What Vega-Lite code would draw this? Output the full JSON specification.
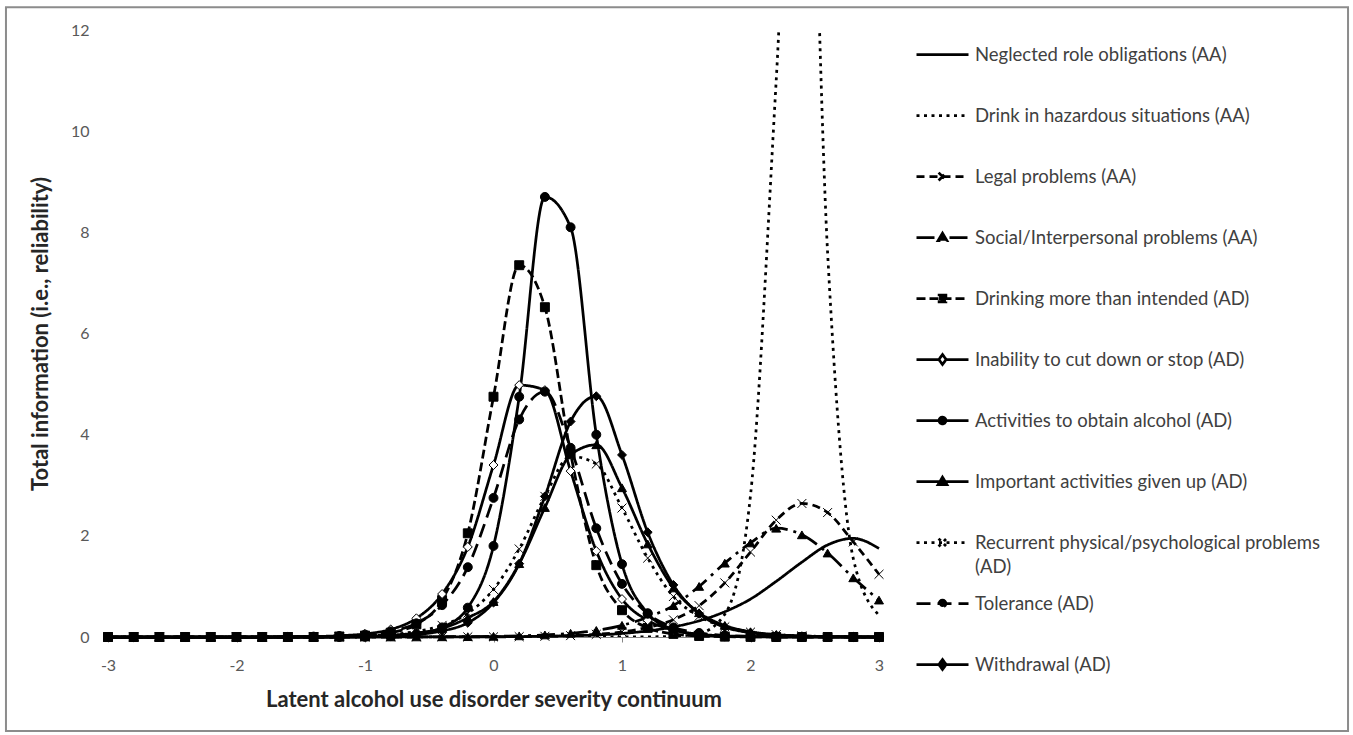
{
  "$schema": "https://vega.github.io/schema/vega-lite/v6.json",
  "width": 771,
  "height": 607,
  "autosize": {"type": "none"},
  "padding": {"left": 108, "top": 30, "right": 474, "bottom": 98},
  "background": "white",
  "config": {
    "view": {"stroke": null},
    "font": "Lato",
    "style": {"guide-label": {"lineHeight": 24}},
    "axisX": {"grid": false, "domainColor": "#868686", "domainWidth": 1, "tickColor": "#868686", "tickSize": 5, "labelPadding": 15,
      "labelFont": "Lato", "labelFontSize": 16, "labelColor": "#595959", "labelFlush": false, "labelOverlap": false,
      "titleFont": "Lato", "titleFontSize": 22, "titleFontWeight": "bold", "titleColor": "#262626", "titlePadding": 16},
    "axisY": {"grid": false, "domain": false, "ticks": false, "tickSize": 0, "labelPadding": 19,
      "labelFont": "Lato", "labelFontSize": 16, "labelColor": "#595959",
      "titleFont": "Lato", "titleFontSize": 22, "titleFontWeight": "bold", "titleColor": "#262626", "titlePadding": 18}
  },
  "data": {"values": [
    {"theta": -3, "item": "Neglected role obligations (AA)", "info": 0},
    {"theta": -2.8, "item": "Neglected role obligations (AA)", "info": 0},
    {"theta": -2.6, "item": "Neglected role obligations (AA)", "info": 0},
    {"theta": -2.4, "item": "Neglected role obligations (AA)", "info": 0},
    {"theta": -2.2, "item": "Neglected role obligations (AA)", "info": 0},
    {"theta": -2, "item": "Neglected role obligations (AA)", "info": 0},
    {"theta": -1.8, "item": "Neglected role obligations (AA)", "info": 0},
    {"theta": -1.6, "item": "Neglected role obligations (AA)", "info": 0},
    {"theta": -1.4, "item": "Neglected role obligations (AA)", "info": 0},
    {"theta": -1.2, "item": "Neglected role obligations (AA)", "info": 0},
    {"theta": -1, "item": "Neglected role obligations (AA)", "info": 0.001},
    {"theta": -0.8, "item": "Neglected role obligations (AA)", "info": 0.001},
    {"theta": -0.6, "item": "Neglected role obligations (AA)", "info": 0.002},
    {"theta": -0.4, "item": "Neglected role obligations (AA)", "info": 0.002},
    {"theta": -0.2, "item": "Neglected role obligations (AA)", "info": 0.003},
    {"theta": 0, "item": "Neglected role obligations (AA)", "info": 0.005},
    {"theta": 0.2, "item": "Neglected role obligations (AA)", "info": 0.008},
    {"theta": 0.4, "item": "Neglected role obligations (AA)", "info": 0.015},
    {"theta": 0.6, "item": "Neglected role obligations (AA)", "info": 0.025},
    {"theta": 0.8, "item": "Neglected role obligations (AA)", "info": 0.04},
    {"theta": 1, "item": "Neglected role obligations (AA)", "info": 0.07},
    {"theta": 1.2, "item": "Neglected role obligations (AA)", "info": 0.12},
    {"theta": 1.4, "item": "Neglected role obligations (AA)", "info": 0.2},
    {"theta": 1.6, "item": "Neglected role obligations (AA)", "info": 0.32},
    {"theta": 1.8, "item": "Neglected role obligations (AA)", "info": 0.5},
    {"theta": 2, "item": "Neglected role obligations (AA)", "info": 0.75},
    {"theta": 2.2, "item": "Neglected role obligations (AA)", "info": 1.1},
    {"theta": 2.4, "item": "Neglected role obligations (AA)", "info": 1.48},
    {"theta": 2.6, "item": "Neglected role obligations (AA)", "info": 1.82},
    {"theta": 2.8, "item": "Neglected role obligations (AA)", "info": 1.95},
    {"theta": 3, "item": "Neglected role obligations (AA)", "info": 1.75},

    {"theta": -3, "item": "Drink in hazardous situations (AA)", "info": 0},
    {"theta": -2.8, "item": "Drink in hazardous situations (AA)", "info": 0},
    {"theta": -2.6, "item": "Drink in hazardous situations (AA)", "info": 0},
    {"theta": -2.4, "item": "Drink in hazardous situations (AA)", "info": 0},
    {"theta": -2.2, "item": "Drink in hazardous situations (AA)", "info": 0},
    {"theta": -2, "item": "Drink in hazardous situations (AA)", "info": 0},
    {"theta": -1.8, "item": "Drink in hazardous situations (AA)", "info": 0},
    {"theta": -1.6, "item": "Drink in hazardous situations (AA)", "info": 0},
    {"theta": -1.4, "item": "Drink in hazardous situations (AA)", "info": 0},
    {"theta": -1.2, "item": "Drink in hazardous situations (AA)", "info": 0},
    {"theta": -1, "item": "Drink in hazardous situations (AA)", "info": 0},
    {"theta": -0.8, "item": "Drink in hazardous situations (AA)", "info": 0},
    {"theta": -0.6, "item": "Drink in hazardous situations (AA)", "info": 0},
    {"theta": -0.4, "item": "Drink in hazardous situations (AA)", "info": 0},
    {"theta": -0.2, "item": "Drink in hazardous situations (AA)", "info": 0},
    {"theta": 0, "item": "Drink in hazardous situations (AA)", "info": 0},
    {"theta": 0.2, "item": "Drink in hazardous situations (AA)", "info": 0},
    {"theta": 0.4, "item": "Drink in hazardous situations (AA)", "info": 0},
    {"theta": 0.6, "item": "Drink in hazardous situations (AA)", "info": 0},
    {"theta": 0.8, "item": "Drink in hazardous situations (AA)", "info": 0},
    {"theta": 1, "item": "Drink in hazardous situations (AA)", "info": 0.001},
    {"theta": 1.2, "item": "Drink in hazardous situations (AA)", "info": 0.003},
    {"theta": 1.4, "item": "Drink in hazardous situations (AA)", "info": 0.013},
    {"theta": 1.6, "item": "Drink in hazardous situations (AA)", "info": 0.07},
    {"theta": 1.8, "item": "Drink in hazardous situations (AA)", "info": 0.45},
    {"theta": 2, "item": "Drink in hazardous situations (AA)", "info": 2.8},
    {"theta": 2.2, "item": "Drink in hazardous situations (AA)", "info": 11},
    {"theta": 2.4, "item": "Drink in hazardous situations (AA)", "info": 20.5},
    {"theta": 2.6, "item": "Drink in hazardous situations (AA)", "info": 7.6},
    {"theta": 2.8, "item": "Drink in hazardous situations (AA)", "info": 1.55},
    {"theta": 3, "item": "Drink in hazardous situations (AA)", "info": 0.43},

    {"theta": -3, "item": "Legal problems (AA)", "info": 0},
    {"theta": -2.8, "item": "Legal problems (AA)", "info": 0},
    {"theta": -2.6, "item": "Legal problems (AA)", "info": 0},
    {"theta": -2.4, "item": "Legal problems (AA)", "info": 0},
    {"theta": -2.2, "item": "Legal problems (AA)", "info": 0},
    {"theta": -2, "item": "Legal problems (AA)", "info": 0},
    {"theta": -1.8, "item": "Legal problems (AA)", "info": 0},
    {"theta": -1.6, "item": "Legal problems (AA)", "info": 0},
    {"theta": -1.4, "item": "Legal problems (AA)", "info": 0},
    {"theta": -1.2, "item": "Legal problems (AA)", "info": 0},
    {"theta": -1, "item": "Legal problems (AA)", "info": 0},
    {"theta": -0.8, "item": "Legal problems (AA)", "info": 0},
    {"theta": -0.6, "item": "Legal problems (AA)", "info": 0},
    {"theta": -0.4, "item": "Legal problems (AA)", "info": 0.001},
    {"theta": -0.2, "item": "Legal problems (AA)", "info": 0.002},
    {"theta": 0, "item": "Legal problems (AA)", "info": 0.003},
    {"theta": 0.2, "item": "Legal problems (AA)", "info": 0.007},
    {"theta": 0.4, "item": "Legal problems (AA)", "info": 0.014},
    {"theta": 0.6, "item": "Legal problems (AA)", "info": 0.027},
    {"theta": 0.8, "item": "Legal problems (AA)", "info": 0.052},
    {"theta": 1, "item": "Legal problems (AA)", "info": 0.1},
    {"theta": 1.2, "item": "Legal problems (AA)", "info": 0.19},
    {"theta": 1.4, "item": "Legal problems (AA)", "info": 0.34},
    {"theta": 1.6, "item": "Legal problems (AA)", "info": 0.62},
    {"theta": 1.8, "item": "Legal problems (AA)", "info": 1.07},
    {"theta": 2, "item": "Legal problems (AA)", "info": 1.68},
    {"theta": 2.2, "item": "Legal problems (AA)", "info": 2.31},
    {"theta": 2.4, "item": "Legal problems (AA)", "info": 2.64},
    {"theta": 2.6, "item": "Legal problems (AA)", "info": 2.46},
    {"theta": 2.8, "item": "Legal problems (AA)", "info": 1.88},
    {"theta": 3, "item": "Legal problems (AA)", "info": 1.24},

    {"theta": -3, "item": "Social/Interpersonal problems (AA)", "info": 0},
    {"theta": -2.8, "item": "Social/Interpersonal problems (AA)", "info": 0},
    {"theta": -2.6, "item": "Social/Interpersonal problems (AA)", "info": 0},
    {"theta": -2.4, "item": "Social/Interpersonal problems (AA)", "info": 0},
    {"theta": -2.2, "item": "Social/Interpersonal problems (AA)", "info": 0},
    {"theta": -2, "item": "Social/Interpersonal problems (AA)", "info": 0},
    {"theta": -1.8, "item": "Social/Interpersonal problems (AA)", "info": 0},
    {"theta": -1.6, "item": "Social/Interpersonal problems (AA)", "info": 0},
    {"theta": -1.4, "item": "Social/Interpersonal problems (AA)", "info": 0},
    {"theta": -1.2, "item": "Social/Interpersonal problems (AA)", "info": 0},
    {"theta": -1, "item": "Social/Interpersonal problems (AA)", "info": 0},
    {"theta": -0.8, "item": "Social/Interpersonal problems (AA)", "info": 0.001},
    {"theta": -0.6, "item": "Social/Interpersonal problems (AA)", "info": 0.002},
    {"theta": -0.4, "item": "Social/Interpersonal problems (AA)", "info": 0.004},
    {"theta": -0.2, "item": "Social/Interpersonal problems (AA)", "info": 0.007},
    {"theta": 0, "item": "Social/Interpersonal problems (AA)", "info": 0.013},
    {"theta": 0.2, "item": "Social/Interpersonal problems (AA)", "info": 0.023},
    {"theta": 0.4, "item": "Social/Interpersonal problems (AA)", "info": 0.041},
    {"theta": 0.6, "item": "Social/Interpersonal problems (AA)", "info": 0.074},
    {"theta": 0.8, "item": "Social/Interpersonal problems (AA)", "info": 0.13},
    {"theta": 1, "item": "Social/Interpersonal problems (AA)", "info": 0.23},
    {"theta": 1.2, "item": "Social/Interpersonal problems (AA)", "info": 0.39},
    {"theta": 1.4, "item": "Social/Interpersonal problems (AA)", "info": 0.62},
    {"theta": 1.6, "item": "Social/Interpersonal problems (AA)", "info": 1},
    {"theta": 1.8, "item": "Social/Interpersonal problems (AA)", "info": 1.46},
    {"theta": 2, "item": "Social/Interpersonal problems (AA)", "info": 1.86},
    {"theta": 2.2, "item": "Social/Interpersonal problems (AA)", "info": 2.15},
    {"theta": 2.4, "item": "Social/Interpersonal problems (AA)", "info": 2.02},
    {"theta": 2.6, "item": "Social/Interpersonal problems (AA)", "info": 1.66},
    {"theta": 2.8, "item": "Social/Interpersonal problems (AA)", "info": 1.17},
    {"theta": 3, "item": "Social/Interpersonal problems (AA)", "info": 0.73},

    {"theta": -3, "item": "Drinking more than intended (AD)", "info": 0},
    {"theta": -2.8, "item": "Drinking more than intended (AD)", "info": 0},
    {"theta": -2.6, "item": "Drinking more than intended (AD)", "info": 0},
    {"theta": -2.4, "item": "Drinking more than intended (AD)", "info": 0},
    {"theta": -2.2, "item": "Drinking more than intended (AD)", "info": 0},
    {"theta": -2, "item": "Drinking more than intended (AD)", "info": 0},
    {"theta": -1.8, "item": "Drinking more than intended (AD)", "info": 0},
    {"theta": -1.6, "item": "Drinking more than intended (AD)", "info": 0},
    {"theta": -1.4, "item": "Drinking more than intended (AD)", "info": 0},
    {"theta": -1.2, "item": "Drinking more than intended (AD)", "info": 0.01},
    {"theta": -1, "item": "Drinking more than intended (AD)", "info": 0.028},
    {"theta": -0.8, "item": "Drinking more than intended (AD)", "info": 0.085},
    {"theta": -0.6, "item": "Drinking more than intended (AD)", "info": 0.25},
    {"theta": -0.4, "item": "Drinking more than intended (AD)", "info": 0.73},
    {"theta": -0.2, "item": "Drinking more than intended (AD)", "info": 2.05},
    {"theta": 0, "item": "Drinking more than intended (AD)", "info": 4.75},
    {"theta": 0.2, "item": "Drinking more than intended (AD)", "info": 7.35},
    {"theta": 0.4, "item": "Drinking more than intended (AD)", "info": 6.52},
    {"theta": 0.6, "item": "Drinking more than intended (AD)", "info": 3.63},
    {"theta": 0.8, "item": "Drinking more than intended (AD)", "info": 1.42},
    {"theta": 1, "item": "Drinking more than intended (AD)", "info": 0.53},
    {"theta": 1.2, "item": "Drinking more than intended (AD)", "info": 0.18},
    {"theta": 1.4, "item": "Drinking more than intended (AD)", "info": 0.061},
    {"theta": 1.6, "item": "Drinking more than intended (AD)", "info": 0.02},
    {"theta": 1.8, "item": "Drinking more than intended (AD)", "info": 0.007},
    {"theta": 2, "item": "Drinking more than intended (AD)", "info": 0.002},
    {"theta": 2.2, "item": "Drinking more than intended (AD)", "info": 0},
    {"theta": 2.4, "item": "Drinking more than intended (AD)", "info": 0},
    {"theta": 2.6, "item": "Drinking more than intended (AD)", "info": 0},
    {"theta": 2.8, "item": "Drinking more than intended (AD)", "info": 0},
    {"theta": 3, "item": "Drinking more than intended (AD)", "info": 0},

    {"theta": -3, "item": "Inability to cut down or stop (AD)", "info": 0},
    {"theta": -2.8, "item": "Inability to cut down or stop (AD)", "info": 0},
    {"theta": -2.6, "item": "Inability to cut down or stop (AD)", "info": 0},
    {"theta": -2.4, "item": "Inability to cut down or stop (AD)", "info": 0},
    {"theta": -2.2, "item": "Inability to cut down or stop (AD)", "info": 0},
    {"theta": -2, "item": "Inability to cut down or stop (AD)", "info": 0},
    {"theta": -1.8, "item": "Inability to cut down or stop (AD)", "info": 0},
    {"theta": -1.6, "item": "Inability to cut down or stop (AD)", "info": 0.004},
    {"theta": -1.4, "item": "Inability to cut down or stop (AD)", "info": 0.01},
    {"theta": -1.2, "item": "Inability to cut down or stop (AD)", "info": 0.025},
    {"theta": -1, "item": "Inability to cut down or stop (AD)", "info": 0.062},
    {"theta": -0.8, "item": "Inability to cut down or stop (AD)", "info": 0.15},
    {"theta": -0.6, "item": "Inability to cut down or stop (AD)", "info": 0.37},
    {"theta": -0.4, "item": "Inability to cut down or stop (AD)", "info": 0.85},
    {"theta": -0.2, "item": "Inability to cut down or stop (AD)", "info": 1.78},
    {"theta": 0, "item": "Inability to cut down or stop (AD)", "info": 3.4},
    {"theta": 0.2, "item": "Inability to cut down or stop (AD)", "info": 4.98},
    {"theta": 0.4, "item": "Inability to cut down or stop (AD)", "info": 4.88},
    {"theta": 0.6, "item": "Inability to cut down or stop (AD)", "info": 3.28},
    {"theta": 0.8, "item": "Inability to cut down or stop (AD)", "info": 1.7},
    {"theta": 1, "item": "Inability to cut down or stop (AD)", "info": 0.75},
    {"theta": 1.2, "item": "Inability to cut down or stop (AD)", "info": 0.33},
    {"theta": 1.4, "item": "Inability to cut down or stop (AD)", "info": 0.137},
    {"theta": 1.6, "item": "Inability to cut down or stop (AD)", "info": 0.056},
    {"theta": 1.8, "item": "Inability to cut down or stop (AD)", "info": 0.023},
    {"theta": 2, "item": "Inability to cut down or stop (AD)", "info": 0.009},
    {"theta": 2.2, "item": "Inability to cut down or stop (AD)", "info": 0.004},
    {"theta": 2.4, "item": "Inability to cut down or stop (AD)", "info": 0.002},
    {"theta": 2.6, "item": "Inability to cut down or stop (AD)", "info": 0.001},
    {"theta": 2.8, "item": "Inability to cut down or stop (AD)", "info": 0},
    {"theta": 3, "item": "Inability to cut down or stop (AD)", "info": 0},

    {"theta": -3, "item": "Activities to obtain alcohol (AD)", "info": 0},
    {"theta": -2.8, "item": "Activities to obtain alcohol (AD)", "info": 0},
    {"theta": -2.6, "item": "Activities to obtain alcohol (AD)", "info": 0},
    {"theta": -2.4, "item": "Activities to obtain alcohol (AD)", "info": 0},
    {"theta": -2.2, "item": "Activities to obtain alcohol (AD)", "info": 0},
    {"theta": -2, "item": "Activities to obtain alcohol (AD)", "info": 0},
    {"theta": -1.8, "item": "Activities to obtain alcohol (AD)", "info": 0},
    {"theta": -1.6, "item": "Activities to obtain alcohol (AD)", "info": 0},
    {"theta": -1.4, "item": "Activities to obtain alcohol (AD)", "info": 0},
    {"theta": -1.2, "item": "Activities to obtain alcohol (AD)", "info": 0},
    {"theta": -1, "item": "Activities to obtain alcohol (AD)", "info": 0.005},
    {"theta": -0.8, "item": "Activities to obtain alcohol (AD)", "info": 0.018},
    {"theta": -0.6, "item": "Activities to obtain alcohol (AD)", "info": 0.059},
    {"theta": -0.4, "item": "Activities to obtain alcohol (AD)", "info": 0.19},
    {"theta": -0.2, "item": "Activities to obtain alcohol (AD)", "info": 0.58},
    {"theta": 0, "item": "Activities to obtain alcohol (AD)", "info": 1.8},
    {"theta": 0.2, "item": "Activities to obtain alcohol (AD)", "info": 4.75},
    {"theta": 0.4, "item": "Activities to obtain alcohol (AD)", "info": 8.7},
    {"theta": 0.6, "item": "Activities to obtain alcohol (AD)", "info": 8.1},
    {"theta": 0.8, "item": "Activities to obtain alcohol (AD)", "info": 4},
    {"theta": 1, "item": "Activities to obtain alcohol (AD)", "info": 1.44},
    {"theta": 1.2, "item": "Activities to obtain alcohol (AD)", "info": 0.47},
    {"theta": 1.4, "item": "Activities to obtain alcohol (AD)", "info": 0.15},
    {"theta": 1.6, "item": "Activities to obtain alcohol (AD)", "info": 0.047},
    {"theta": 1.8, "item": "Activities to obtain alcohol (AD)", "info": 0.015},
    {"theta": 2, "item": "Activities to obtain alcohol (AD)", "info": 0.005},
    {"theta": 2.2, "item": "Activities to obtain alcohol (AD)", "info": 0.002},
    {"theta": 2.4, "item": "Activities to obtain alcohol (AD)", "info": 0},
    {"theta": 2.6, "item": "Activities to obtain alcohol (AD)", "info": 0},
    {"theta": 2.8, "item": "Activities to obtain alcohol (AD)", "info": 0},
    {"theta": 3, "item": "Activities to obtain alcohol (AD)", "info": 0},

    {"theta": -3, "item": "Important activities given up (AD)", "info": 0},
    {"theta": -2.8, "item": "Important activities given up (AD)", "info": 0},
    {"theta": -2.6, "item": "Important activities given up (AD)", "info": 0},
    {"theta": -2.4, "item": "Important activities given up (AD)", "info": 0},
    {"theta": -2.2, "item": "Important activities given up (AD)", "info": 0},
    {"theta": -2, "item": "Important activities given up (AD)", "info": 0},
    {"theta": -1.8, "item": "Important activities given up (AD)", "info": 0},
    {"theta": -1.6, "item": "Important activities given up (AD)", "info": 0},
    {"theta": -1.4, "item": "Important activities given up (AD)", "info": 0.003},
    {"theta": -1.2, "item": "Important activities given up (AD)", "info": 0.007},
    {"theta": -1, "item": "Important activities given up (AD)", "info": 0.016},
    {"theta": -0.8, "item": "Important activities given up (AD)", "info": 0.036},
    {"theta": -0.6, "item": "Important activities given up (AD)", "info": 0.08},
    {"theta": -0.4, "item": "Important activities given up (AD)", "info": 0.17},
    {"theta": -0.2, "item": "Important activities given up (AD)", "info": 0.38},
    {"theta": 0, "item": "Important activities given up (AD)", "info": 0.7},
    {"theta": 0.2, "item": "Important activities given up (AD)", "info": 1.45},
    {"theta": 0.4, "item": "Important activities given up (AD)", "info": 2.56},
    {"theta": 0.6, "item": "Important activities given up (AD)", "info": 3.6},
    {"theta": 0.8, "item": "Important activities given up (AD)", "info": 3.8},
    {"theta": 1, "item": "Important activities given up (AD)", "info": 2.95},
    {"theta": 1.2, "item": "Important activities given up (AD)", "info": 1.84},
    {"theta": 1.4, "item": "Important activities given up (AD)", "info": 0.97},
    {"theta": 1.6, "item": "Important activities given up (AD)", "info": 0.48},
    {"theta": 1.8, "item": "Important activities given up (AD)", "info": 0.23},
    {"theta": 2, "item": "Important activities given up (AD)", "info": 0.105},
    {"theta": 2.2, "item": "Important activities given up (AD)", "info": 0.047},
    {"theta": 2.4, "item": "Important activities given up (AD)", "info": 0.021},
    {"theta": 2.6, "item": "Important activities given up (AD)", "info": 0.009},
    {"theta": 2.8, "item": "Important activities given up (AD)", "info": 0.004},
    {"theta": 3, "item": "Important activities given up (AD)", "info": 0.002},

    {"theta": -3, "item": "Recurrent physical/psychological problems (AD)", "info": 0},
    {"theta": -2.8, "item": "Recurrent physical/psychological problems (AD)", "info": 0},
    {"theta": -2.6, "item": "Recurrent physical/psychological problems (AD)", "info": 0},
    {"theta": -2.4, "item": "Recurrent physical/psychological problems (AD)", "info": 0},
    {"theta": -2.2, "item": "Recurrent physical/psychological problems (AD)", "info": 0},
    {"theta": -2, "item": "Recurrent physical/psychological problems (AD)", "info": 0},
    {"theta": -1.8, "item": "Recurrent physical/psychological problems (AD)", "info": 0},
    {"theta": -1.6, "item": "Recurrent physical/psychological problems (AD)", "info": 0.002},
    {"theta": -1.4, "item": "Recurrent physical/psychological problems (AD)", "info": 0.005},
    {"theta": -1.2, "item": "Recurrent physical/psychological problems (AD)", "info": 0.011},
    {"theta": -1, "item": "Recurrent physical/psychological problems (AD)", "info": 0.024},
    {"theta": -0.8, "item": "Recurrent physical/psychological problems (AD)", "info": 0.05},
    {"theta": -0.6, "item": "Recurrent physical/psychological problems (AD)", "info": 0.11},
    {"theta": -0.4, "item": "Recurrent physical/psychological problems (AD)", "info": 0.23},
    {"theta": -0.2, "item": "Recurrent physical/psychological problems (AD)", "info": 0.47},
    {"theta": 0, "item": "Recurrent physical/psychological problems (AD)", "info": 0.94},
    {"theta": 0.2, "item": "Recurrent physical/psychological problems (AD)", "info": 1.74},
    {"theta": 0.4, "item": "Recurrent physical/psychological problems (AD)", "info": 2.78},
    {"theta": 0.6, "item": "Recurrent physical/psychological problems (AD)", "info": 3.57},
    {"theta": 0.8, "item": "Recurrent physical/psychological problems (AD)", "info": 3.42},
    {"theta": 1, "item": "Recurrent physical/psychological problems (AD)", "info": 2.55},
    {"theta": 1.2, "item": "Recurrent physical/psychological problems (AD)", "info": 1.56},
    {"theta": 1.4, "item": "Recurrent physical/psychological problems (AD)", "info": 0.8},
    {"theta": 1.6, "item": "Recurrent physical/psychological problems (AD)", "info": 0.41},
    {"theta": 1.8, "item": "Recurrent physical/psychological problems (AD)", "info": 0.2},
    {"theta": 2, "item": "Recurrent physical/psychological problems (AD)", "info": 0.096},
    {"theta": 2.2, "item": "Recurrent physical/psychological problems (AD)", "info": 0.046},
    {"theta": 2.4, "item": "Recurrent physical/psychological problems (AD)", "info": 0.022},
    {"theta": 2.6, "item": "Recurrent physical/psychological problems (AD)", "info": 0.01},
    {"theta": 2.8, "item": "Recurrent physical/psychological problems (AD)", "info": 0.005},
    {"theta": 3, "item": "Recurrent physical/psychological problems (AD)", "info": 0.002},

    {"theta": -3, "item": "Tolerance (AD)", "info": 0},
    {"theta": -2.8, "item": "Tolerance (AD)", "info": 0},
    {"theta": -2.6, "item": "Tolerance (AD)", "info": 0},
    {"theta": -2.4, "item": "Tolerance (AD)", "info": 0},
    {"theta": -2.2, "item": "Tolerance (AD)", "info": 0},
    {"theta": -2, "item": "Tolerance (AD)", "info": 0},
    {"theta": -1.8, "item": "Tolerance (AD)", "info": 0},
    {"theta": -1.6, "item": "Tolerance (AD)", "info": 0.003},
    {"theta": -1.4, "item": "Tolerance (AD)", "info": 0.008},
    {"theta": -1.2, "item": "Tolerance (AD)", "info": 0.019},
    {"theta": -1, "item": "Tolerance (AD)", "info": 0.047},
    {"theta": -0.8, "item": "Tolerance (AD)", "info": 0.11},
    {"theta": -0.6, "item": "Tolerance (AD)", "info": 0.27},
    {"theta": -0.4, "item": "Tolerance (AD)", "info": 0.63},
    {"theta": -0.2, "item": "Tolerance (AD)", "info": 1.38},
    {"theta": 0, "item": "Tolerance (AD)", "info": 2.75},
    {"theta": 0.2, "item": "Tolerance (AD)", "info": 4.3},
    {"theta": 0.4, "item": "Tolerance (AD)", "info": 4.85},
    {"theta": 0.6, "item": "Tolerance (AD)", "info": 3.74},
    {"theta": 0.8, "item": "Tolerance (AD)", "info": 2.15},
    {"theta": 1, "item": "Tolerance (AD)", "info": 1.05},
    {"theta": 1.2, "item": "Tolerance (AD)", "info": 0.46},
    {"theta": 1.4, "item": "Tolerance (AD)", "info": 0.19},
    {"theta": 1.6, "item": "Tolerance (AD)", "info": 0.08},
    {"theta": 1.8, "item": "Tolerance (AD)", "info": 0.032},
    {"theta": 2, "item": "Tolerance (AD)", "info": 0.013},
    {"theta": 2.2, "item": "Tolerance (AD)", "info": 0.005},
    {"theta": 2.4, "item": "Tolerance (AD)", "info": 0.002},
    {"theta": 2.6, "item": "Tolerance (AD)", "info": 0},
    {"theta": 2.8, "item": "Tolerance (AD)", "info": 0},
    {"theta": 3, "item": "Tolerance (AD)", "info": 0},

    {"theta": -3, "item": "Withdrawal (AD)", "info": 0},
    {"theta": -2.8, "item": "Withdrawal (AD)", "info": 0},
    {"theta": -2.6, "item": "Withdrawal (AD)", "info": 0},
    {"theta": -2.4, "item": "Withdrawal (AD)", "info": 0},
    {"theta": -2.2, "item": "Withdrawal (AD)", "info": 0},
    {"theta": -2, "item": "Withdrawal (AD)", "info": 0},
    {"theta": -1.8, "item": "Withdrawal (AD)", "info": 0},
    {"theta": -1.6, "item": "Withdrawal (AD)", "info": 0},
    {"theta": -1.4, "item": "Withdrawal (AD)", "info": 0},
    {"theta": -1.2, "item": "Withdrawal (AD)", "info": 0.004},
    {"theta": -1, "item": "Withdrawal (AD)", "info": 0.009},
    {"theta": -0.8, "item": "Withdrawal (AD)", "info": 0.021},
    {"theta": -0.6, "item": "Withdrawal (AD)", "info": 0.05},
    {"theta": -0.4, "item": "Withdrawal (AD)", "info": 0.12},
    {"theta": -0.2, "item": "Withdrawal (AD)", "info": 0.28},
    {"theta": 0, "item": "Withdrawal (AD)", "info": 0.68},
    {"theta": 0.2, "item": "Withdrawal (AD)", "info": 1.45},
    {"theta": 0.4, "item": "Withdrawal (AD)", "info": 2.78},
    {"theta": 0.6, "item": "Withdrawal (AD)", "info": 4.26},
    {"theta": 0.8, "item": "Withdrawal (AD)", "info": 4.76},
    {"theta": 1, "item": "Withdrawal (AD)", "info": 3.6},
    {"theta": 1.2, "item": "Withdrawal (AD)", "info": 2.07},
    {"theta": 1.4, "item": "Withdrawal (AD)", "info": 1.03},
    {"theta": 1.6, "item": "Withdrawal (AD)", "info": 0.46},
    {"theta": 1.8, "item": "Withdrawal (AD)", "info": 0.197},
    {"theta": 2, "item": "Withdrawal (AD)", "info": 0.084},
    {"theta": 2.2, "item": "Withdrawal (AD)", "info": 0.035},
    {"theta": 2.4, "item": "Withdrawal (AD)", "info": 0.015},
    {"theta": 2.6, "item": "Withdrawal (AD)", "info": 0.006},
    {"theta": 2.8, "item": "Withdrawal (AD)", "info": 0.003},
    {"theta": 3, "item": "Withdrawal (AD)", "info": 0.001}
  ]},
  "resolve": {
    "scale": {"shape": "independent", "fill": "independent", "strokeDash": "independent"},
    "legend": {"shape": "independent", "fill": "independent", "strokeDash": "independent"}
  },
  "layer": [
    {
      "transform": [{"filter": "datum.item !== 'Drink in hazardous situations (AA)' && datum.item !== 'Recurrent physical/psychological problems (AD)'"}],
      "mark": {"type": "line", "color": "black", "strokeWidth": 2.75, "interpolate": "monotone", "strokeCap": "butt"},
      "encoding": {
        "x": {"field": "theta", "type": "quantitative", "scale": {"domain": [-3, 3], "nice": false, "zero": false},
          "axis": {"values": [-3, -2, -1, 0, 1, 2, 3], "labelExpr": "'' + datum.value", "title": "Latent alcohol use disorder severity continuum"}},
        "y": {"field": "info", "type": "quantitative", "scale": {"domain": [0, 12], "nice": false},
          "axis": {"values": [0, 2, 4, 6, 8, 10, 12], "title": "Total information (i.e., reliability)"}},
        "strokeDash": {"field": "item", "type": "nominal", "legend": null,
          "scale": {"domain": ["Neglected role obligations (AA)", "Drink in hazardous situations (AA)", "Legal problems (AA)", "Social/Interpersonal problems (AA)", "Drinking more than intended (AD)", "Inability to cut down or stop (AD)", "Activities to obtain alcohol (AD)", "Important activities given up (AD)", "Recurrent physical/psychological problems (AD)", "Tolerance (AD)", "Withdrawal (AD)"],
            "range": [[1, 0], [3, 4.5], [8, 5], [18, 6, 3, 6], [9, 4], [1, 0], [1, 0], [1, 0], [3, 4.5], [14, 7], [1, 0]]}}
      }
    },
    {
      "transform": [{"filter": "datum.item === 'Drink in hazardous situations (AA)' || datum.item === 'Recurrent physical/psychological problems (AD)'"}],
      "mark": {"type": "line", "color": "black", "strokeWidth": 2.75, "interpolate": "monotone", "strokeCap": "butt", "clip": true},
      "encoding": {
        "x": {"field": "theta", "type": "quantitative", "scale": {"domain": [-3, 3], "nice": false, "zero": false},
          "axis": {"values": [-3, -2, -1, 0, 1, 2, 3], "labelExpr": "'' + datum.value", "title": "Latent alcohol use disorder severity continuum"}},
        "y": {"field": "info", "type": "quantitative", "scale": {"domain": [0, 12], "nice": false},
          "axis": {"values": [0, 2, 4, 6, 8, 10, 12], "title": "Total information (i.e., reliability)"}},
        "strokeDash": {"field": "item", "type": "nominal", "legend": null,
          "scale": {"domain": ["Neglected role obligations (AA)", "Drink in hazardous situations (AA)", "Legal problems (AA)", "Social/Interpersonal problems (AA)", "Drinking more than intended (AD)", "Inability to cut down or stop (AD)", "Activities to obtain alcohol (AD)", "Important activities given up (AD)", "Recurrent physical/psychological problems (AD)", "Tolerance (AD)", "Withdrawal (AD)"],
            "range": [[1, 0], [3, 4.5], [8, 5], [18, 6, 3, 6], [9, 4], [1, 0], [1, 0], [1, 0], [3, 4.5], [14, 7], [1, 0]]}}
      }
    },
    {
      "transform": [{"filter": "datum.item !== 'Neglected role obligations (AA)' && datum.item !== 'Drink in hazardous situations (AA)'"}],
      "mark": {"type": "point", "filled": true, "stroke": "black", "strokeWidth": 1, "size": 80, "opacity": 1},
      "encoding": {
        "x": {"field": "theta", "type": "quantitative", "scale": {"domain": [-3, 3], "nice": false, "zero": false},
          "axis": {"values": [-3, -2, -1, 0, 1, 2, 3], "labelExpr": "'' + datum.value", "title": "Latent alcohol use disorder severity continuum"}},
        "y": {"field": "info", "type": "quantitative", "scale": {"domain": [0, 12], "nice": false},
          "axis": {"values": [0, 2, 4, 6, 8, 10, 12], "title": "Total information (i.e., reliability)"}},
        "shape": {"field": "item", "type": "nominal", "legend": null,
          "scale": {"domain": ["Legal problems (AA)", "Social/Interpersonal problems (AA)", "Drinking more than intended (AD)", "Inability to cut down or stop (AD)", "Activities to obtain alcohol (AD)", "Important activities given up (AD)", "Recurrent physical/psychological problems (AD)", "Tolerance (AD)", "Withdrawal (AD)"],
            "range": ["M-1,-1L1,1M-1,1L1,-1", "triangle-up", "square", "diamond", "circle", "triangle-up", "M-1,-1L1,1M-1,1L1,-1", "circle", "diamond"]}},
        "fill": {"field": "item", "type": "nominal", "legend": null,
          "scale": {"domain": ["Legal problems (AA)", "Social/Interpersonal problems (AA)", "Drinking more than intended (AD)", "Inability to cut down or stop (AD)", "Activities to obtain alcohol (AD)", "Important activities given up (AD)", "Recurrent physical/psychological problems (AD)", "Tolerance (AD)", "Withdrawal (AD)"],
            "range": ["black", "black", "black", "white", "black", "black", "black", "black", "black"]}}
      }
    },
    {
      "transform": [{"filter": "false"}],
      "mark": {"type": "point", "filled": false, "color": "black", "strokeWidth": 2.75, "opacity": 1},
      "encoding": {
        "x": {"field": "theta", "type": "quantitative", "scale": {"domain": [-3, 3], "nice": false, "zero": false},
          "axis": {"values": [-3, -2, -1, 0, 1, 2, 3], "labelExpr": "'' + datum.value", "title": "Latent alcohol use disorder severity continuum"}},
        "y": {"field": "info", "type": "quantitative", "scale": {"domain": [0, 12], "nice": false},
          "axis": {"values": [0, 2, 4, 6, 8, 10, 12], "title": "Total information (i.e., reliability)"}},
        "shape": {"field": "item", "type": "nominal",
          "scale": {"domain": ["Neglected role obligations (AA)", "Drink in hazardous situations (AA)", "Legal problems (AA)", "Social/Interpersonal problems (AA)", "Drinking more than intended (AD)", "Inability to cut down or stop (AD)", "Activities to obtain alcohol (AD)", "Important activities given up (AD)", "Recurrent physical/psychological problems (AD)", "Tolerance (AD)", "Withdrawal (AD)"],
            "range": [
              "M-1,-0.23H1M0,0.99",
              "M-1,-0.23H1M0,0.99",
              "M-1,-0.23H1M-0.15,-0.38L0.15,-0.08M-0.15,-0.08L0.15,-0.38M0,0.99",
              "M-1,-0.23H1M-0.17,-0.11L0,-0.4L0.17,-0.11ZM-0.1,-0.16L0,-0.33L0.1,-0.16ZM-0.03,-0.21L0,-0.26L0.03,-0.21ZM0,0.99",
              "M-1,-0.23H1M-0.13,-0.36H0.13V-0.1H-0.13ZM-0.08,-0.31H0.08V-0.15H-0.08ZM-0.03,-0.26H0.03V-0.2H-0.03ZM0,0.99",
              "M-1,-0.23H-0.14M0.14,-0.23H1M0,-0.42L0.14,-0.23L0,-0.04L-0.14,-0.23ZM0,0.99",
              "M-1,-0.23H1M-0.13,-0.23A0.13,0.13,0,1,1,0.13,-0.23A0.13,0.13,0,1,1,-0.13,-0.23ZM-0.08,-0.23A0.08,0.08,0,1,1,0.08,-0.23A0.08,0.08,0,1,1,-0.08,-0.23ZM-0.03,-0.23A0.03,0.03,0,1,1,0.03,-0.23A0.03,0.03,0,1,1,-0.03,-0.23ZM0,0.99",
              "M-1,-0.23H1M-0.17,-0.11L0,-0.4L0.17,-0.11ZM-0.1,-0.16L0,-0.33L0.1,-0.16ZM-0.03,-0.21L0,-0.26L0.03,-0.21ZM0,0.99",
              "M-1,-0.23H1M-0.15,-0.38L0.15,-0.08M-0.15,-0.08L0.15,-0.38M0,0.99",
              "M-1,-0.23H1M-0.13,-0.23A0.13,0.13,0,1,1,0.13,-0.23A0.13,0.13,0,1,1,-0.13,-0.23ZM-0.08,-0.23A0.08,0.08,0,1,1,0.08,-0.23A0.08,0.08,0,1,1,-0.08,-0.23ZM-0.03,-0.23A0.03,0.03,0,1,1,0.03,-0.23A0.03,0.03,0,1,1,-0.03,-0.23ZM0,0.99",
              "M-1,-0.23H1M0,-0.42L0.14,-0.23L0,-0.04L-0.14,-0.23ZM0,-0.35L0.08,-0.23L0,-0.11L-0.08,-0.23ZM0,-0.28L0.03,-0.23L0,-0.18L-0.03,-0.23ZM0,0.99"
            ]},
          "legend": {"title": null, "orient": "none", "legendX": 807, "legendY": 3, "padding": 0,
            "symbolSize": 2704, "symbolStrokeWidth": 2.75,
            "labelFont": "Lato", "labelFontSize": 18.5, "labelColor": "#404040", "labelLimit": 500, "labelOffset": 5, "labelBaseline": "alphabetic",
            "labelExpr": "datum.value === 'Recurrent physical/psychological problems (AD)' ? ['Recurrent physical/psychological problems', '(AD)'] : datum.label"}},
        "strokeDash": {"field": "item", "type": "nominal",
          "scale": {"domain": ["Neglected role obligations (AA)", "Drink in hazardous situations (AA)", "Legal problems (AA)", "Social/Interpersonal problems (AA)", "Drinking more than intended (AD)", "Inability to cut down or stop (AD)", "Activities to obtain alcohol (AD)", "Important activities given up (AD)", "Recurrent physical/psychological problems (AD)", "Tolerance (AD)", "Withdrawal (AD)"],
            "range": [[1, 0], [3, 4.5], [8, 5], [18, 6, 3, 6], [9, 4], [1, 0], [1, 0], [1, 0], [3, 4.5], [14, 7], [1, 0]]},
          "legend": {"title": null, "orient": "none", "legendX": 807, "legendY": 3, "padding": 0,
            "symbolSize": 2704, "symbolStrokeWidth": 2.75,
            "labelFont": "Lato", "labelFontSize": 18.5, "labelColor": "#404040", "labelLimit": 500, "labelOffset": 5, "labelBaseline": "alphabetic",
            "labelExpr": "datum.value === 'Recurrent physical/psychological problems (AD)' ? ['Recurrent physical/psychological problems', '(AD)'] : datum.label"}}
      }
    },
    {
      "data": {"values": [{"frame": "chart"}]},
      "mark": {"type": "rect", "filled": false, "color": "#8c8c8c", "strokeWidth": 2, "clip": false},
      "encoding": {
        "x": {"datum": -3.794, "type": "quantitative", "scale": {"domain": [-3, 3], "nice": false, "zero": false},
          "axis": {"values": [-3, -2, -1, 0, 1, 2, 3], "labelExpr": "'' + datum.value", "title": "Latent alcohol use disorder severity continuum"}},
        "x2": {"datum": 6.65},
        "y": {"datum": 12.45, "type": "quantitative", "scale": {"domain": [0, 12], "nice": false},
          "axis": {"values": [0, 2, 4, 6, 8, 10, 12], "title": "Total information (i.e., reliability)"}},
        "y2": {"datum": -1.86}
      }
    }
  ]
}
